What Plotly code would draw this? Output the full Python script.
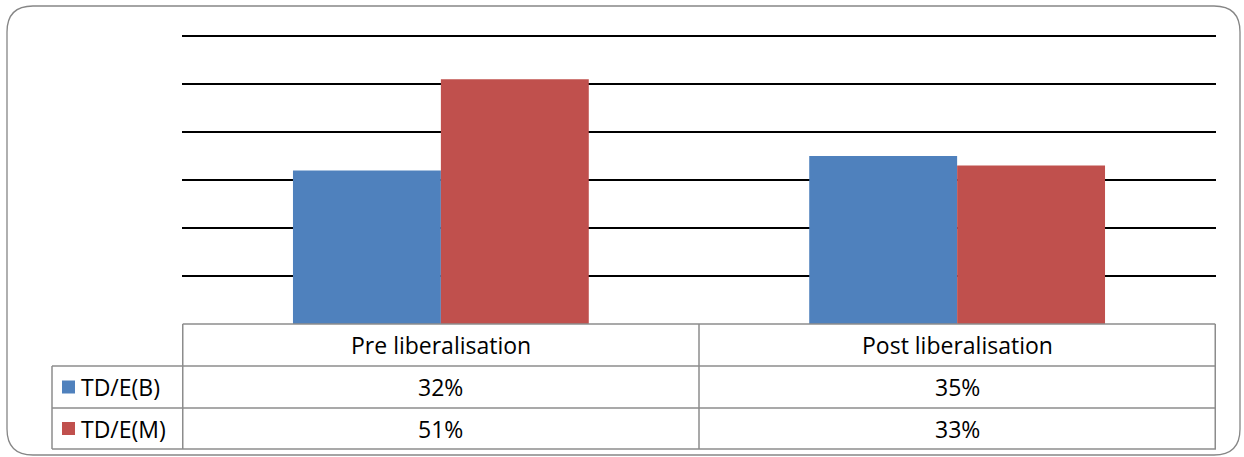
import plotly.graph_objects as go

# --- data ---
categories = ["Pre liberalisation", "Post liberalisation"]
series_names = ["TD/E(B)", "TD/E(M)"]
td_e_b = [0.32, 0.35]
td_e_m = [0.51, 0.33]
series_colors = ["#4F81BD", "#C0504D"]
grid_vals = [0.1, 0.2, 0.3, 0.4, 0.5, 0.6]

W, H = 1244, 457
FONT = "'Open Sans', Calibri, sans-serif"


def px(x):
    return x / W


def py(y):
    return 1 - y / H


# plot area in pixels (0.6 sits at y=36, axis runs a bit past it so the top grid line shows)
Y_MAX = 0.62
PL, PR, PB = 182, 1216, 324
PT = PB - (PB - 36) * Y_MAX / 0.6
ROWS = [324, 366, 408, 449]  # table row boundaries
LEG_L = 52
GRID = "#8c8c8c"

fig = go.Figure()
for name, vals, col in zip(series_names, [td_e_b, td_e_m], series_colors):
    fig.add_trace(go.Bar(
        x=categories, y=vals, name=name,
        marker=dict(color=col, line=dict(width=0)),
        showlegend=False, hoverinfo="x+y",
    ))

shapes = []
# rounded outer border
x0, x1, y0, y1, r = 7, 1240, 6, 455, 26
path = (
    f"M {px(x0 + r)},{py(y0)} L {px(x1 - r)},{py(y0)} "
    f"Q {px(x1)},{py(y0)} {px(x1)},{py(y0 + r)} "
    f"L {px(x1)},{py(y1 - r)} Q {px(x1)},{py(y1)} {px(x1 - r)},{py(y1)} "
    f"L {px(x0 + r)},{py(y1)} Q {px(x0)},{py(y1)} {px(x0)},{py(y1 - r)} "
    f"L {px(x0)},{py(y0 + r)} Q {px(x0)},{py(y0)} {px(x0 + r)},{py(y0)} Z"
)
shapes.append(dict(type="path", path=path, xref="paper", yref="paper",
                   line=dict(color="#868686", width=1.3), layer="below"))

# table horizontal lines
line_style = dict(color=GRID, width=1.5)
shapes.append(dict(type="line", xref="x", yref="paper", x0=-0.5, x1=len(categories) - 0.5,
                   y0=py(ROWS[0]), y1=py(ROWS[0]), line=line_style))
for yy in ROWS[1:]:
    shapes.append(dict(type="line", xref="paper", yref="paper", x0=px(LEG_L), x1=px(PR),
                       y0=py(yy), y1=py(yy), line=line_style))
# vertical lines
shapes.append(dict(type="line", xref="paper", yref="paper", x0=px(LEG_L), x1=px(LEG_L),
                   y0=py(ROWS[1]), y1=py(ROWS[-1]), line=line_style))
for i in range(len(categories) + 1):
    shapes.append(dict(type="line", xref="x", yref="paper", x0=i - 0.5, x1=i - 0.5,
                       y0=py(ROWS[0]), y1=py(ROWS[-1]), line=line_style))

annotations = []
font = dict(family=FONT, size=23, color="#000000")
mid = [(ROWS[i] + ROWS[i + 1]) / 2 for i in range(3)]
for cat in categories:
    annotations.append(dict(x=cat, y=py(mid[0]), xref="x", yref="paper", text=cat,
                            showarrow=False, font=font, xanchor="center", yanchor="middle"))
for row, vals in enumerate([td_e_b, td_e_m]):
    for cat, v in zip(categories, vals):
        annotations.append(dict(x=cat, y=py(mid[row + 1]), xref="x", yref="paper",
                                text=f"{round(v * 100)}%", showarrow=False, font=font,
                                xanchor="center", yanchor="middle"))
    # legend key + series name
    shapes.append(dict(type="rect", xref="paper", yref="paper",
                       x0=px(62), x1=px(75), y0=py(mid[row + 1] + 6.5), y1=py(mid[row + 1] - 6.5),
                       fillcolor=series_colors[row], line=dict(width=0)))
    annotations.append(dict(x=px(79), y=py(mid[row + 1]), xref="paper", yref="paper",
                            text=series_names[row], showarrow=False, xanchor="left",
                            yanchor="middle", font=font))

fig.update_layout(
    width=W, height=H,
    margin=dict(l=0, r=0, t=0, b=0),
    paper_bgcolor="white", plot_bgcolor="white",
    barmode="group", bargap=0.427, bargroupgap=0,
    xaxis=dict(domain=[px(PL), px(PR)], showticklabels=False, showgrid=False,
               zeroline=False, showline=False, ticks=""),
    yaxis=dict(domain=[py(PB), py(PT)], range=[0, Y_MAX], tickvals=grid_vals,
               showticklabels=False, showgrid=True, gridcolor="#000000", gridwidth=1.8,
               zeroline=False, showline=False, ticks=""),
    shapes=shapes, annotations=annotations,
    font=dict(family=FONT),
)

fig.write_html("out.html", config={"displayModeBar": False},
               post_script="document.body.style.margin='0';")
